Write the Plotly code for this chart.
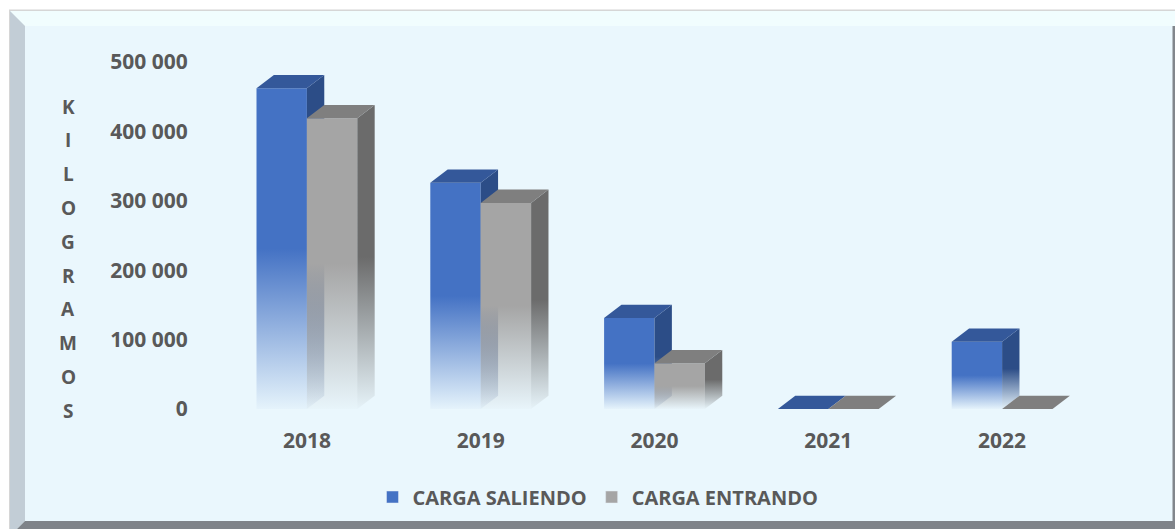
import plotly.graph_objects as go

# ---- data -----------------------------------------------------------------
years = ["2018", "2019", "2020", "2021", "2022"]
carga_saliendo = [462000, 326000, 131000, 0, 97000]
carga_entrando = [419000, 297000, 66000, 0, 0]
series_names = ["CARGA SALIENDO", "CARGA ENTRANDO"]
y_tickvals = [0, 100000, 200000, 300000, 400000, 500000]
y_ticktext = ["0", "100 000", "200 000", "300 000", "400 000", "500 000"]
y_title = "KILOGRAMOS"

# ---- layout geometry --------------------------------------------------------
W, H = 1175, 529
ML, MR, MT, MB = 220, 86, 62, 120
PW, PH = W - ML - MR, H - MT - MB
Y_MAX = 500000

BAR_W = 0.29                       # width of one column (category units)
DEPTH_X = 0.10                     # 3-D depth offset, category units
DEPTH_Y = 13.3 / PH * Y_MAX        # 3-D depth offset, value units

TEXT = "#595959"
FONT = "Open Sans"
BG = "rgb(234,247,253)"

palette = {
    "CARGA SALIENDO": dict(front=(68, 114, 196), side=(44, 77, 135), top=(52, 88, 154)),
    "CARGA ENTRANDO": dict(front=(165, 165, 165), side=(107, 107, 107), top=(127, 127, 127)),
}


def rgba(c, a):
    return f"rgba({c[0]},{c[1]},{c[2]},{a})"


def fade(c):
    # transparent at the floor, full colour from half height upwards
    return [[0, rgba(c, 0.03)], [0.5, rgba(c, 1)], [1, rgba(c, 1)]]


def px_x(px):
    return (px - ML) / PW


def px_y(py):
    return (MT + PH - py) / PH


fig = go.Figure()

# ---- 3-D columns ------------------------------------------------------------
for i, _ in enumerate(years):
    for s, (name, values) in enumerate(zip(series_names, [carga_saliendo, carga_entrando])):
        v = values[i]
        col = palette[name]
        x0 = i - BAR_W + s * BAR_W
        x1 = x0 + BAR_W
        if v > 0:
            # front face
            fig.add_trace(go.Scatter(
                x=[x0, x1, x1, x0, x0], y=[0, 0, v, v, 0],
                mode="none", fill="toself",
                fillgradient=dict(type="vertical", colorscale=fade(col["front"]), start=0, stop=v),
                hoverinfo="skip", showlegend=False))
            # side face
            fig.add_trace(go.Scatter(
                x=[x1, x1 + DEPTH_X, x1 + DEPTH_X, x1, x1],
                y=[0, DEPTH_Y, v + DEPTH_Y, v, 0],
                mode="none", fill="toself",
                fillgradient=dict(type="vertical", colorscale=fade(col["side"]), start=0, stop=v + DEPTH_Y),
                hoverinfo="skip", showlegend=False))
        # top face
        fig.add_trace(go.Scatter(
            x=[x0, x1, x1 + DEPTH_X, x0 + DEPTH_X, x0],
            y=[v, v, v + DEPTH_Y, v + DEPTH_Y, v],
            mode="none", fill="toself", fillcolor=rgba(col["top"], 1),
            hoverinfo="skip", showlegend=False))

# legend entries
for name in series_names:
    fig.add_trace(go.Bar(x=[None], y=[None], name=name,
                         marker=dict(color=rgba(palette[name]["front"], 1))))

# ---- frame with bevelled edges ---------------------------------------------
def poly(points):
    return "M" + " L".join(f"{px_x(a)},{px_y(b)}" for a, b in points) + " Z"


shapes = [
    dict(type="path", path=poly([(9, 9.5), (W, 9.5), (W, H), (9, H)]),
         fillcolor="rgb(214,214,214)", line=dict(width=0)),
    dict(type="path", path=poly([(10, 11), (W, 11), (W, H), (10, H)]),
         fillcolor=BG, line=dict(width=0)),
    dict(type="path", path=poly([(10, 11), (W, 11), (W, 26), (25, 26)]),
         fillcolor="rgb(241,253,254)", line=dict(width=0)),
    dict(type="path", path=poly([(10, 11), (25, 26), (25, 521), (17, H), (10, H)]),
         fillcolor="rgb(194,205,214)", line=dict(width=0)),
    dict(type="path", path=poly([(25, 521), (W, 521), (W, H), (17, H)]),
         fillcolor="rgb(127,131,137)", line=dict(width=0)),
    dict(type="path", path=poly([(1172.5, 26), (W, 26), (W, 521), (1172.5, 521)]),
         fillcolor="rgb(130,134,140)", line=dict(width=0)),
]
for sh in shapes:
    sh.update(xref="paper", yref="paper", layer="below")

# ---- vertical axis title, one letter per line --------------------------------
annotations = []
for k, ch in enumerate(y_title):
    annotations.append(dict(
        text=ch, x=px_x(68), y=px_y(106.7 + k * 33.76),
        xref="paper", yref="paper", showarrow=False,
        xanchor="center", yanchor="middle",
        font=dict(family=FONT, size=19, color=TEXT, weight="bold")))

fig.update_layout(
    width=W, height=H,
    margin=dict(l=ML, r=MR, t=MT, b=MB),
    paper_bgcolor="white", plot_bgcolor="rgba(0,0,0,0)",
    font=dict(family=FONT, color=TEXT),
    shapes=shapes, annotations=annotations,
    showlegend=True,
    legend=dict(orientation="h", x=px_x(598), xanchor="center",
                y=px_y(497), yanchor="middle",
                bgcolor="rgba(0,0,0,0)",
                font=dict(family=FONT, size=20, color=TEXT, weight="bold")),
    xaxis=dict(type="linear", range=[-0.5, 4.5],
               tickvals=list(range(len(years))), ticktext=years,
               showgrid=False, zeroline=False, showline=False,
               ticks="outside", ticklen=13, tickcolor="rgba(0,0,0,0)",
               tickfont=dict(family=FONT, size=21, color=TEXT, weight="bold"),
               fixedrange=True),
    yaxis=dict(range=[0, Y_MAX], tickvals=y_tickvals, ticktext=y_ticktext,
               showgrid=False, zeroline=False, showline=False,
               ticks="outside", ticklen=27, tickcolor="rgba(0,0,0,0)",
               tickfont=dict(family=FONT, size=21, color=TEXT, weight="bold"),
               fixedrange=True),
)

fig.write_html("out.html")
